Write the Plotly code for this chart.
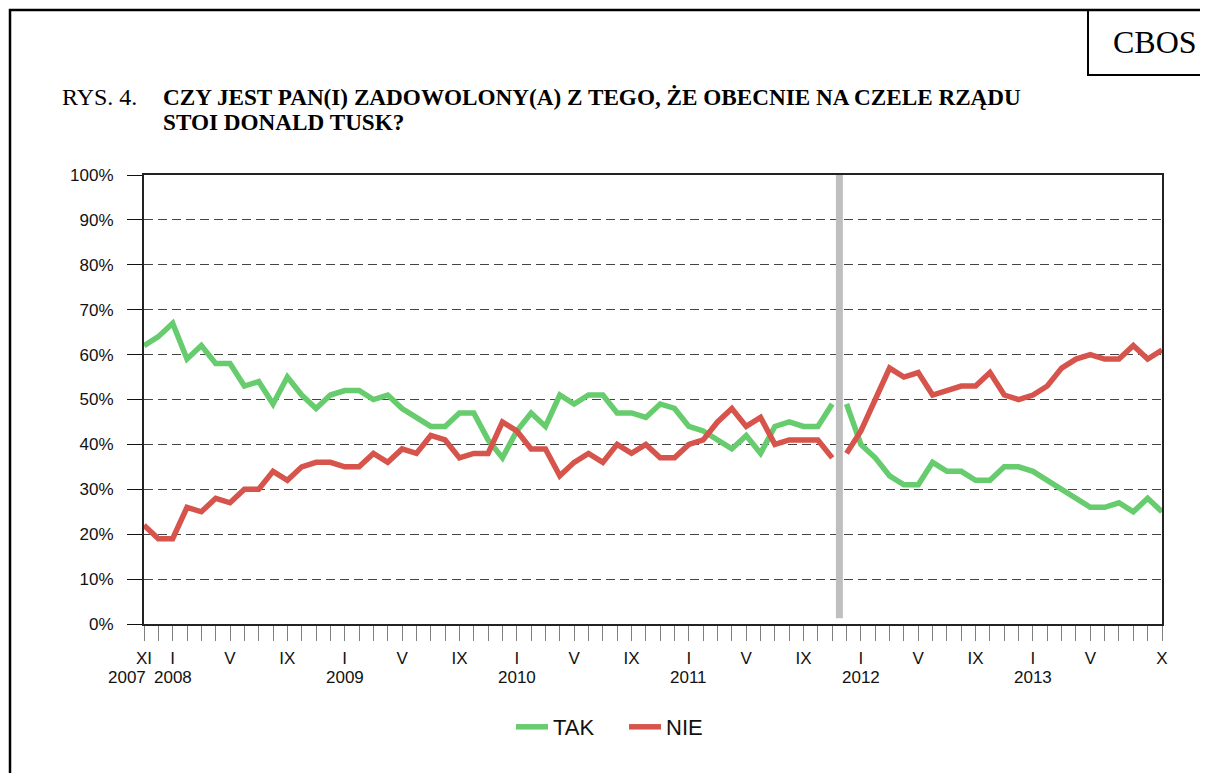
import plotly.graph_objects as go

# ---- data (monthly surveys XI 2007 - X 2013) ----
month_index = list(range(72))
tak = [62, 64, 67, 59, 62, 58, 58, 53, 54, 49, 55, 51, 48, 51, 52, 52, 50, 51,
       48, 46, 44, 44, 47, 47, 41, 37, 43, 47, 44, 51, 49, 51, 51, 47, 47, 46,
       49, 48, 44, 43, 41, 39, 42, 38, 44, 45, 44, 44, 49,
       49, 40, 37, 33, 31, 31, 36, 34, 34, 32, 32, 35, 35, 34, 32, 30, 28, 26,
       26, 27, 25, 28, 25]
nie = [22, 19, 19, 26, 25, 28, 27, 30, 30, 34, 32, 35, 36, 36, 35, 35, 38, 36,
       39, 38, 42, 41, 37, 38, 38, 45, 43, 39, 39, 33, 36, 38, 36, 40, 38, 40,
       37, 37, 40, 41, 45, 48, 44, 46, 40, 41, 41, 41, 37,
       38, 43, 50, 57, 55, 56, 51, 52, 53, 53, 56, 51, 50, 51, 53, 57, 59, 60,
       59, 59, 62, 59, 61]
period_break = 49  # first survey of the second Tusk government period

tick_idx = [0, 2, 6, 10, 14, 18, 22, 26, 30, 34, 38, 42, 46, 50, 54, 58, 62, 66, 71]
tick_lbl = ["XI", "I", "V", "IX", "I", "V", "IX", "I", "V", "IX", "I", "V", "IX",
            "I", "V", "IX", "I", "V", "X"]
years = ["2007", "2008", "2009", "2010", "2011", "2012", "2013"]
year_idx = [0, 2, 14, 26, 38, 50, 62]

GREEN = "#66CC6E"
RED = "#D6544B"
SANS = "Arial, Liberation Sans, sans-serif"
SERIF = "Times New Roman, Liberation Serif, serif"

# page layout (page pixels); the html body adds an 8px offset
OFF = 8
W, H = 1208 - OFF, 773 - OFF
PL, PR, PT, PB = 144, 1162, 175, 624
def px(x):
    return (x - PL) / (PR - PL)
def py(y):
    return (PB - y) / (PB - PT)

fig = go.Figure()
for name, vals, col in [("TAK", tak, GREEN), ("NIE", nie, RED)]:
    fig.add_trace(go.Scatter(x=month_index[:period_break], y=vals[:period_break],
                             mode="lines", name=name, legendgroup=name,
                             line=dict(color=col, width=5.5)))
    fig.add_trace(go.Scatter(x=month_index[period_break:], y=vals[period_break:],
                             mode="lines", name=name, legendgroup=name, showlegend=False,
                             line=dict(color=col, width=5.5)))

ticktext = [""] * len(month_index)
for i, t in zip(tick_idx, tick_lbl):
    ticktext[i] = t

fig.update_xaxes(range=[0, 71], tickmode="array", tickvals=month_index, ticktext=ticktext,
                 ticks="outside", ticklen=15, tickcolor="#808080", tickwidth=1,
                 showline=True, linecolor="#222", linewidth=2, mirror=True,
                 showgrid=False, zeroline=False, ticklabelstandoff=3,
                 tickfont=dict(family=SANS, size=17, color="#111"))
fig.update_yaxes(range=[0, 100], tickmode="linear", tick0=0, dtick=10, ticksuffix="%",
                 ticks="outside", ticklen=15, tickcolor="#111", tickwidth=1,
                 showline=True, linecolor="#222", linewidth=2, mirror=True,
                 showgrid=True, gridcolor="#444", gridwidth=1, griddash="9px,5px",
                 zeroline=False, ticklabelstandoff=10,
                 tickfont=dict(family=SANS, size=17, color="#111"))

shapes = [
    # outer page frame
    dict(type="rect", xref="paper", yref="paper", x0=px(10), x1=px(1240),
         y0=py(820), y1=py(10), line=dict(color="black", width=2.5)),
    # CBOS box
    dict(type="rect", xref="paper", yref="paper", x0=px(1088), x1=px(1240),
         y0=py(75), y1=py(10), line=dict(color="black", width=2)),
    # grey separator between periods
    dict(type="line", xref="x", yref="paper", x0=period_break - 0.5, x1=period_break - 0.5,
         y0=0.013, y1=1, line=dict(color="#BFBFBF", width=7), layer="above"),
]

annotations = [
    dict(text="CBOS", xref="paper", yref="paper", x=px(1155), y=py(42),
         xanchor="center", yanchor="middle", showarrow=False,
         font=dict(family=SERIF, size=32, color="black")),
    dict(text="RYS. 4.", xref="paper", yref="paper", x=px(60), y=py(97),
         xanchor="left", yanchor="middle", showarrow=False,
         font=dict(family=SERIF, size=24, color="black")),
    dict(text="<b>CZY JEST PAN(I) ZADOWOLONY(A) Z TEGO, ŻE OBECNIE NA CZELE RZĄDU</b>",
         xref="paper", yref="paper", x=px(161), y=py(97),
         xanchor="left", yanchor="middle", showarrow=False,
         font=dict(family=SERIF, size=23.2, color="black")),
    dict(text="<b>STOI DONALD TUSK?</b>",
         xref="paper", yref="paper", x=px(161), y=py(122),
         xanchor="left", yanchor="middle", showarrow=False,
         font=dict(family=SERIF, size=23.2, color="black")),
]
for yr, i in zip(years, year_idx):
    anchor = "right" if i == 0 else "center"
    annotations.append(dict(text=yr, xref="x", yref="paper", x=i, y=py(677),
                            xanchor=anchor, xshift=4 if i == 0 else 0,
                            yanchor="middle", showarrow=False,
                            font=dict(family=SANS, size=17, color="#111")))

fig.update_layout(
    width=W, height=H,
    margin=dict(l=PL - OFF, r=W - (PR - OFF), t=PT - OFF, b=H - (PB - OFF), pad=0),
    paper_bgcolor="white", plot_bgcolor="white",
    shapes=shapes, annotations=annotations,
    showlegend=True,
    legend=dict(orientation="h", x=px(624), xanchor="center", y=py(727), yanchor="middle",
                font=dict(family=SANS, size=22, color="#111"), itemwidth=32,
                entrywidth=66, bgcolor="rgba(0,0,0,0)"),
)

fig.write_html("out.html")
